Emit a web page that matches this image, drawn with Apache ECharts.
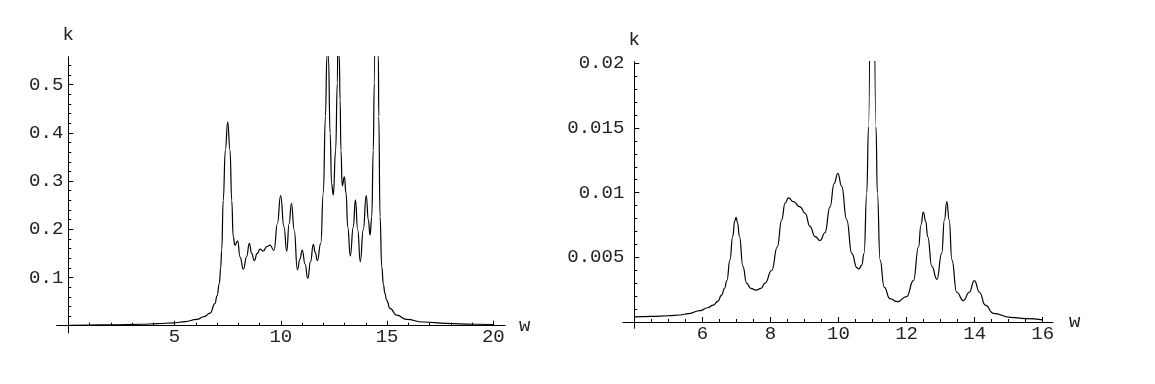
<!DOCTYPE html>
<html>
<head>
<meta charset="utf-8">
<script src="https://cdn.jsdelivr.net/npm/echarts@6/dist/echarts.min.js"></script>
<style>
html,body{margin:0;padding:0;background:#fff;}
#chart{width:1155px;height:384px;}
</style>
</head>
<body>
<div id="chart"></div>
<script>
// ---- Left panel data (w, k) ----
const leftW = [0, 1, 2, 3.4, 4.2, 4.94, 5.5, 6.04, 6.4, 6.67, 6.9, 7.0, 7.11, 7.17, 7.22, 7.29, 7.39, 7.5, 7.61, 7.69, 7.76, 7.84, 7.97, 8.08, 8.24, 8.39, 8.52, 8.63, 8.75, 8.89, 9.02, 9.18, 9.34, 9.49, 9.68, 9.84, 9.99, 10.15, 10.28, 10.39, 10.5, 10.63, 10.78, 10.9, 11.01, 11.14, 11.27, 11.4, 11.53, 11.62, 11.72, 11.88, 12.0, 12.1, 12.17, 12.2, 12.24, 12.32, 12.39, 12.47, 12.58, 12.66, 12.7, 12.75, 12.79, 12.83, 12.89, 12.99, 13.07, 13.15, 13.27, 13.41, 13.51, 13.62, 13.74, 13.88, 14.02, 14.12, 14.2, 14.28, 14.35, 14.4, 14.5, 14.59, 14.61, 14.67, 14.75, 14.83, 14.9, 14.98, 15.14, 15.45, 15.92, 16.7, 17.8, 19.1, 20];
const leftK = [0.001, 0.0013, 0.0018, 0.003, 0.0042, 0.006, 0.0085, 0.013, 0.019, 0.026, 0.046, 0.062, 0.088, 0.12, 0.157, 0.26, 0.364, 0.423, 0.364, 0.26, 0.185, 0.167, 0.176, 0.143, 0.117, 0.143, 0.171, 0.150, 0.135, 0.150, 0.159, 0.155, 0.164, 0.167, 0.156, 0.212, 0.270, 0.205, 0.154, 0.212, 0.254, 0.199, 0.116, 0.138, 0.157, 0.128, 0.098, 0.133, 0.169, 0.152, 0.135, 0.171, 0.275, 0.434, 0.56, 0.70, 0.56, 0.399, 0.295, 0.271, 0.364, 0.503, 0.70, 0.56, 0.468, 0.364, 0.290, 0.309, 0.275, 0.205, 0.145, 0.205, 0.261, 0.199, 0.133, 0.199, 0.270, 0.219, 0.188, 0.226, 0.364, 0.503, 1.2, 0.56, 0.434, 0.226, 0.122, 0.085, 0.067, 0.053, 0.036, 0.022, 0.013, 0.0077, 0.005, 0.003, 0.0025];

// ---- Right panel data (w, k) ----
const rightW = [4, 4.5, 5, 5.34, 5.6, 5.93, 6.15, 6.32, 6.45, 6.57, 6.65, 6.72, 6.81, 6.89, 6.95, 6.99, 7.03, 7.09, 7.19, 7.3, 7.42, 7.58, 7.72, 7.84, 8.04, 8.2, 8.33, 8.43, 8.53, 8.67, 8.87, 9.02, 9.16, 9.31, 9.46, 9.6, 9.75, 9.87, 9.98, 10.09, 10.24, 10.39, 10.54, 10.6, 10.68, 10.75, 10.83, 10.88, 10.99, 11.1, 11.14, 11.22, 11.34, 11.51, 11.73, 12.0, 12.2, 12.35, 12.42, 12.49, 12.56, 12.62, 12.74, 12.89, 13.03, 13.11, 13.18, 13.25, 13.33, 13.47, 13.67, 13.84, 13.99, 14.14, 14.31, 14.55, 15.04, 15.5, 16];
const rightK = [0.00039, 0.00043, 0.00048, 0.00054, 0.00065, 0.00088, 0.0011, 0.0013, 0.0016, 0.0021, 0.0026, 0.0032, 0.0048, 0.0066, 0.0078, 0.0081, 0.0077, 0.0066, 0.0043, 0.003, 0.0026, 0.00247, 0.0026, 0.003, 0.004, 0.0058, 0.0079, 0.0092, 0.0096, 0.0093, 0.0089, 0.0084, 0.0074, 0.0066, 0.0063, 0.0069, 0.0089, 0.0107, 0.0115, 0.0105, 0.0079, 0.0053, 0.0042, 0.0041, 0.0044, 0.0053, 0.01, 0.0151, 0.045, 0.0151, 0.01, 0.0048, 0.0027, 0.0018, 0.00157, 0.00196, 0.0032, 0.0058, 0.0075, 0.0085, 0.0078, 0.0066, 0.0043, 0.0033, 0.0053, 0.0079, 0.0093, 0.0079, 0.0048, 0.0023, 0.00165, 0.0023, 0.0032, 0.0023, 0.0013, 0.00067, 0.00036, 0.00026, 0.00016];

// ---- Tick steps and tick labels ----
const leftXLabels = ['5', '10', '15', '20'];
const leftYLabels = ['0.1', '0.2', '0.3', '0.4', '0.5'];
const rightXLabels = ['6', '8', '10', '12', '14', '16'];
const rightYLabels = ['0.005', '0.01', '0.015', '0.02'];
const leftXStep = {major: 5, minor: 1};
const leftYStep = {major: 0.1, minor: 0.02};
const rightXStep = {major: 2, minor: 0.5};
const rightYStep = {major: 0.005, minor: 0.001};

const FONT = 'Liberation Mono';
const TXT = '#222';
const lineSt = {color: '#000', width: 1};
const textSt = {fontFamily: FONT, fontSize: 19, color: TXT};

function pairs(xs, ys) { return xs.map((x, i) => [x, ys[i]]); }
function labelFmt(list) {
  return function (v) {
    for (const s of list) { if (Math.abs(Number(s) - v) < 1e-9) return s; }
    return '';
  };
}

// data/axis-line grids: draw axis lines, names and curves (no ticks)
function lineAxis(grid, dim, min, max, name, nameGap, onZero, offset) {
  return {gridIndex: grid, type: 'value', min: min, max: max,
    position: dim === 'x' ? 'bottom' : 'left', offset: offset || 0,
    axisLine: {show: true, onZero: onZero, lineStyle: lineSt},
    axisTick: {show: false}, axisLabel: {show: false}, splitLine: {show: false},
    name: name, nameLocation: 'end', nameGap: nameGap, nameTextStyle: textSt};
}
// tick-only axes (axis line hidden)
function tickAxis(grid, dim, min, max, interval, len, labels, margin) {
  return {gridIndex: grid, type: 'value', min: min, max: max, interval: interval,
    position: dim === 'x' ? 'bottom' : 'left',
    axisLine: {show: false, onZero: false},
    axisTick: {show: true, inside: true, length: len, lineStyle: lineSt},
    axisLabel: labels ? Object.assign({show: true, margin: margin, formatter: labelFmt(labels), showMinLabel: true, showMaxLabel: true, hideOverlap: false}, textSt) : {show: false},
    splitLine: {show: false}};
}

const chart = echarts.init(document.getElementById('chart'), null, {renderer: 'canvas'});
chart.setOption({
  backgroundColor: '#fff',
  animation: false,
  grid: [
    {left: 56.7, top: 56.7, width: 448.3, height: 276.3},   // 0 left axes + curve
    {left: 68.3, top: 84.7, width: 425, height: 241},       // 1 left major ticks
    {left: 68.3, top: 65.42, width: 425, height: 260.28},   // 2 left minor ticks
    {left: 623, top: 61.7, width: 430, height: 266.6},      // 3 right axes + curve
    {left: 634.3, top: 63.3, width: 408.4, height: 258.7}   // 4 right ticks
  ],
  xAxis: [
    lineAxis(0, 'x', -0.546, 20.55, 'w', 14, true),
    tickAxis(1, 'x', 0, 20, leftXStep.major, 5, leftXLabels, 2),
    tickAxis(2, 'x', 0, 20, leftXStep.minor, 3, null),
    lineAxis(3, 'x', 3.668, 16.30, 'w', 16, true),
    tickAxis(4, 'x', 4, 16, rightXStep.major, 5, rightXLabels, 2),
    tickAxis(4, 'x', 4, 16, rightXStep.minor, 3, null)
  ],
  yAxis: [
    lineAxis(0, 'y', -0.0151, 0.558, 'k', 12, true),
    tickAxis(1, 'y', 0, 0.5, leftYStep.major, 5, leftYLabels, 5),
    tickAxis(2, 'y', 0, 0.54, leftYStep.minor, 3, null),
    lineAxis(3, 'y', -0.00049, 0.02013, 'k', 12, false, -11.3),
    tickAxis(4, 'y', 0, 0.02, rightYStep.major, 5, rightYLabels, 10),
    tickAxis(4, 'y', 0, 0.02, rightYStep.minor, 3, null)
  ],
  series: [
    {type: 'line', xAxisIndex: 0, yAxisIndex: 0, data: pairs(leftW, leftK),
     showSymbol: false, smooth: 0.5, smoothMonotone: 'x', clip: true,
     lineStyle: {color: '#000', width: 1.2}},
    {type: 'line', xAxisIndex: 3, yAxisIndex: 3, data: pairs(rightW, rightK),
     showSymbol: false, smooth: 0.5, smoothMonotone: 'x', clip: true,
     lineStyle: {color: '#000', width: 1.2}}
  ]
});
</script>
</body>
</html>
